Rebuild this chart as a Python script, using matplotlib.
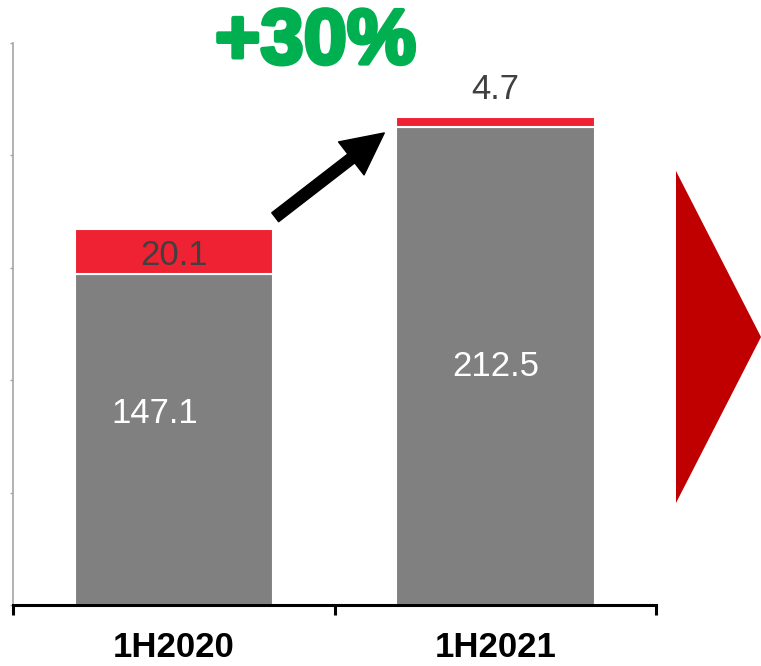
import matplotlib.pyplot as plt
from matplotlib.patches import Polygon
import matplotlib.patheffects as pe

periods = ['1H2020', '1H2021']
base = [147.1, 212.5]      # grey part
extra = [20.1, 4.7]        # red part on top
growth = '+30%'

grey = '#808080'
red = '#EE2233'

fig = plt.figure(figsize=(7.61, 6.66), dpi=100)
ax = fig.add_axes([0.0171, 0.0916, 0.8455, 0.8438])

x = list(range(len(periods)))
ax.bar(x, base, width=0.617, color=grey, edgecolor='white', linewidth=1.5)
ax.bar(x, extra, bottom=base, width=0.617, color=red, edgecolor='white', linewidth=1.5)

# value labels
ax.text(x[0] - 0.06, 85, f'{base[0]}', ha='center', va='center',
        fontsize=25, color='white', family='Liberation Sans')
ax.text(x[1], base[1] / 2, f'{base[1]}', ha='center', va='center',
        fontsize=25, color='white', family='Liberation Sans')
ax.text(x[0], base[0] + extra[0] / 2 - 1.5, f'{extra[0]}', ha='center', va='center',
        fontsize=25, color='#404040', family='Liberation Sans')
ax.text(x[1], base[1] + extra[1] + 12, f'{extra[1]}', ha='center', va='center',
        fontsize=25, color='#404040', family='Liberation Sans')

# growth arrow + label
ax.annotate('', xy=(0.654, 210), xytext=(0.315, 172.5),
            arrowprops=dict(arrowstyle='simple,head_length=1.0,head_width=1.0,tail_width=0.27',
                            color='black', mutation_scale=30, shrinkA=0, shrinkB=0))
ax.text(0.44, 250, growth, ha='center', va='center', fontsize=56, fontweight='bold',
        color='#00B050', family='Liberation Sans', clip_on=False,
        path_effects=[pe.withStroke(linewidth=3, foreground='#00B050')])

ax.set_xlim(-0.5, 1.5)
ax.set_ylim(0, 250)

for s in ['top', 'right']:
    ax.spines[s].set_visible(False)
ax.spines['left'].set_color('#A6A6A6')
ax.spines['left'].set_linewidth(1.2)
ax.spines['bottom'].set_color('black')
ax.spines['bottom'].set_linewidth(2.2)

ax.set_yticks(range(0, 251, 50))
ax.tick_params(axis='y', length=2, width=1, color='#A6A6A6', labelleft=False)
ax.set_xticks([-0.5, 0.5, 1.5])
ax.set_xticklabels([])
ax.tick_params(axis='x', which='major', length=7, width=2.2, color='black', direction='out')
ax.set_xticks(x, minor=True)
ax.set_xticklabels(periods, minor=True, fontsize=25, fontweight='bold', family='Liberation Sans')
ax.tick_params(axis='x', which='minor', length=0, pad=19)

# red chevron on the right
fig.patches.append(Polygon([[676 / 761, 1 - 171 / 666], [761 / 761, 1 - 337 / 666],
                            [676 / 761, 1 - 503 / 666]], closed=True,
                           transform=fig.transFigure, facecolor='#C00000', edgecolor='none'))

fig.savefig('out.png', dpi=100)
